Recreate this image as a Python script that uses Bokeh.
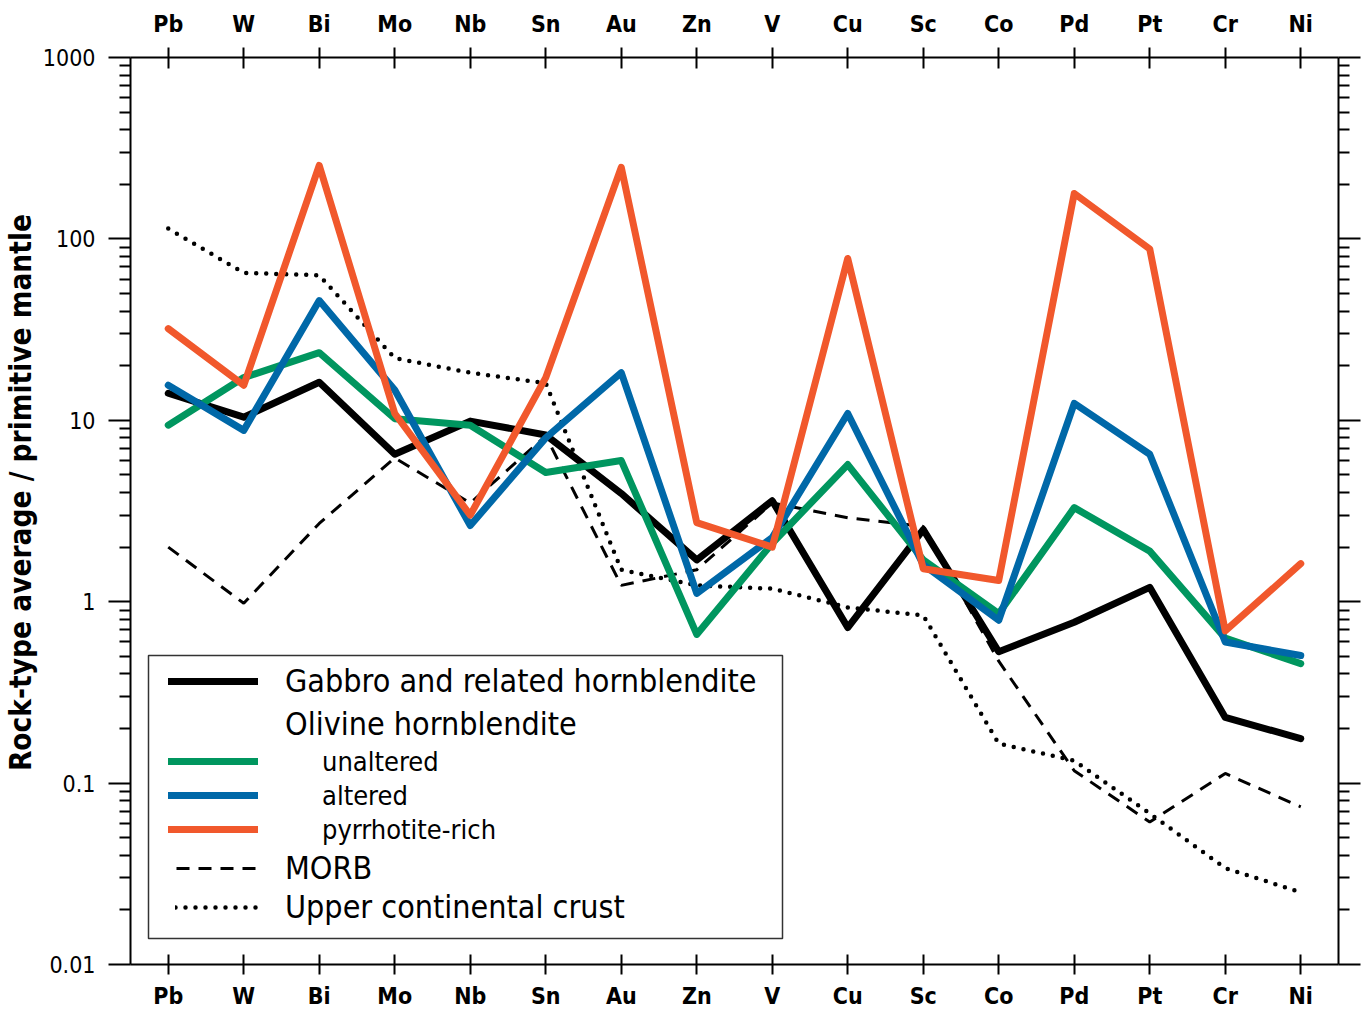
from bokeh.plotting import figure
from bokeh.models import (Legend, LegendItem, CategoricalAxis, LogAxis, FixedTicker,
                          CustomJSTickFormatter, BoxAnnotation, Range1d)
from bokeh.embed import file_html
from bokeh.resources import INLINE

elements = ["Pb", "W", "Bi", "Mo", "Nb", "Sn", "Au", "Zn", "V", "Cu", "Sc", "Co", "Pd", "Pt", "Cr", "Ni"]
gabbro = [14.1, 10.4, 16.2, 6.5, 9.9, 8.3, 3.95, 1.7, 3.6, 0.72, 2.5, 0.53, 0.77, 1.2, 0.23, 0.176]
unaltered = [9.4, 17.2, 23.6, 10.2, 9.4, 5.15, 6.0, 0.66, 2.1, 5.7, 1.7, 0.86, 3.3, 1.9, 0.63, 0.456]
altered = [15.6, 8.8, 45.7, 14.7, 2.63, 8.0, 18.3, 1.11, 2.26, 10.9, 1.6, 0.79, 12.4, 6.5, 0.60, 0.505]
pyrrhotite = [32.0, 15.6, 254.0, 10.9, 3.0, 17.2, 248.0, 2.73, 2.0, 78.0, 1.52, 1.31, 178.0, 88.0, 0.69, 1.62]
morb = [2.0, 0.98, 2.7, 6.2, 3.5, 8.2, 1.23, 1.5, 3.5, 2.9, 2.6, 0.47, 0.117, 0.061, 0.113, 0.074]
ucc = [114.0, 65.0, 63.0, 22.0, 18.3, 16.0, 1.5, 1.23, 1.18, 0.93, 0.84, 0.165, 0.133, 0.068, 0.034, 0.025]

y_major = [0.01, 0.1, 1, 10, 100, 1000]
y_minor = [m * 10.0 ** k for k in range(-2, 3) for m in range(2, 10)]

FONT = "DejaVu Sans Condensed"
GREEN = "#00965F"
BLUE = "#0068A8"
ORANGE = "#F1582C"

p = figure(x_range=elements, y_axis_type="log", y_range=Range1d(0.01, 1000),
           width=1362, height=1011, output_backend="svg", toolbar_location=None,
           min_border_left=130, min_border_top=57, min_border_right=24, min_border_bottom=20)
p.outline_line_color = None
p.xgrid.visible = False
p.ygrid.visible = False

# data lines
r_ucc = p.line(elements, ucc, line_color="black", line_width=4.5, line_dash="0 10", line_cap="round")
r_morb = p.line(elements, morb, line_color="black", line_width=3, line_dash="13 9")
r_gab = p.line(elements, gabbro, line_color="black", line_width=7, line_join="round", line_cap="round")
r_una = p.line(elements, unaltered, line_color=GREEN, line_width=7, line_join="round", line_cap="round")
r_alt = p.line(elements, altered, line_color=BLUE, line_width=7, line_join="round", line_cap="round")
r_pyr = p.line(elements, pyrrhotite, line_color=ORANGE, line_width=7, line_join="round", line_cap="round")
r_blank = p.line(x=[], y=[], line_alpha=0)

# y axes
ya = p.yaxis[0]
ya.ticker = FixedTicker(ticks=y_major, minor_ticks=y_minor)
ya.formatter = CustomJSTickFormatter(code="return tick.toString();")
ya.axis_line_width = 2
ya.major_tick_line_width = 2
ya.minor_tick_line_width = 2
ya.major_tick_out = 22
ya.major_tick_in = 0
ya.minor_tick_out = 11
ya.minor_tick_in = 0
ya.major_label_standoff = 13
ya.major_label_text_font = FONT
ya.major_label_text_font_size = "23px"
ya.major_label_text_color = "black"
ya.axis_label = "\u00a0\u00a0\u00a0\u00a0Rock-type average / primitive mantle"
ya.axis_label_text_font = FONT
ya.axis_label_text_font_style = "bold"
ya.axis_label_text_font_size = "29.5px"
ya.axis_label_text_color = "black"
ya.axis_label_standoff = 2

ra = LogAxis(ticker=FixedTicker(ticks=y_major, minor_ticks=y_minor),
             formatter=CustomJSTickFormatter(code="return '';"),
             axis_line_width=2, major_tick_line_width=2, minor_tick_line_width=2,
             major_tick_out=22, major_tick_in=0, minor_tick_out=11, minor_tick_in=0,
             major_label_standoff=0, major_label_text_font_size="0px")
p.add_layout(ra, "right")

# x axes
def style_x(ax, t_in, t_out, standoff):
    ax.axis_line_width = 2
    ax.major_tick_line_width = 2
    ax.major_tick_in = t_in
    ax.major_tick_out = t_out
    ax.major_label_standoff = standoff
    ax.major_label_text_font = FONT
    ax.major_label_text_font_style = "bold"
    ax.major_label_text_font_size = "23px"
    ax.major_label_text_color = "black"

style_x(p.xaxis[0], 10, 10, 8)
ta = CategoricalAxis()
style_x(ta, 11, 10, 11)
p.add_layout(ta, "above")

# legend (frame-relative screen positions)
B = 964
box = BoxAnnotation(left=18, right=652, bottom=B - 938, top=B - 655,
                    left_units="screen", right_units="screen",
                    top_units="screen", bottom_units="screen",
                    fill_color="white", fill_alpha=1.0,
                    line_color="#333333", line_alpha=1.0, line_width=1.5)
p.add_layout(box)

H = 50
def make_legend(label, renderer, size, x, center, glyph_w, standoff):
    return Legend(items=[LegendItem(label=label, renderers=[renderer])],
                  location=(x, B - center - H / 2), label_text_font=FONT,
                  label_text_font_size=size, label_text_color="black",
                  glyph_width=glyph_w, glyph_height=H, label_height=H,
                  spacing=0, label_standoff=standoff, padding=0, margin=0,
                  border_line_color=None, background_fill_alpha=0)

legends = [
    make_legend("Gabbro and related hornblendite", r_gab, "32px", 38, 681, 90, 27),
    make_legend("Olivine hornblendite", r_blank, "32px", 38, 724, 90, 27),
    make_legend("unaltered", r_una, "27px", 38, 761, 90, 64),
    make_legend("altered", r_alt, "27px", 38, 795, 90, 64),
    make_legend("pyrrhotite-rich", r_pyr, "27px", 38, 829, 90, 64),
    make_legend("MORB", r_morb, "32px", 46, 868, 82, 27),
    make_legend("Upper continental crust", r_ucc, "32px", 45, 907, 83, 27),
]
for lg in legends:
    p.add_layout(lg)

open("out.html", "w").write(file_html(p, INLINE))
